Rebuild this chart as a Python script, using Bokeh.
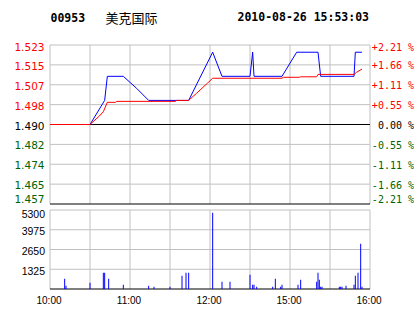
from bokeh.plotting import figure
from bokeh.models import Range1d, ColumnDataSource
from bokeh.core.properties import value
from bokeh.embed import file_html
from bokeh.resources import INLINE

# ---------------- data ----------------
stock_code = "00953"
stock_name = "美克国际"
timestamp = "2010-08-26 15:53:03"
prev_close = 1.490

price_ticks = [1.523, 1.51475, 1.5065, 1.49825, 1.490, 1.48175, 1.4735, 1.46525, 1.457]
price_tick_labels = ["1.523", "1.515", "1.507", "1.498", "1.490", "1.482", "1.474", "1.465", "1.457"]
pct_tick_labels = ["+2.21 %", "+1.66 %", "+1.11 %", "+0.55 %", "0.00 %",
                   "-0.55 %", "-1.11 %", "-1.66 %", "-2.21 %"]
vol_ticks = [5300, 3975, 2650, 1325, 0]
vol_tick_labels = ["5300", "3975", "2650", "1325"]
grid_minutes = [0, 30, 60, 90, 120, 150, 180, 210, 240]
time_tick_minutes = [0, 60, 120, 180, 240]
time_tick_labels = ["10:00", "11:00", "12:00", "15:00", "16:00"]

# minutes since 10:00 on the trading-time axis (lunch break removed)
price_min = [0, 30, 41, 43, 55, 65, 74, 104, 122, 129, 150, 152, 153, 174, 185, 201, 203, 228, 229, 234]
price_val = [1.490, 1.490, 1.500, 1.510, 1.510, 1.505, 1.500, 1.500, 1.520, 1.510,
             1.510, 1.520, 1.510, 1.510, 1.520, 1.520, 1.510, 1.510, 1.520, 1.520]

avg_min = [0, 30, 37, 40, 43, 49, 50, 94, 95, 104, 110, 118, 122, 174, 175, 187, 188, 200, 201, 228, 230, 234]
avg_val = [1.490, 1.490, 1.4935, 1.4953, 1.4992, 1.4992, 1.4996, 1.4996, 1.5000, 1.5000,
           1.5030, 1.5071, 1.5092, 1.5092, 1.5096, 1.5096, 1.5098, 1.5098, 1.5108, 1.5108,
           1.5117, 1.5130]

vol_min = [11, 12, 30, 40, 41, 44, 55, 74, 78, 90, 99, 102, 104, 122, 129, 135, 150, 152, 153,
           155, 167, 169, 173, 174, 186, 188, 200, 201, 202, 203, 204, 217, 218, 219, 222,
           228, 229, 231, 233, 234]
vol_val = [690, 220, 420, 1095, 1095, 690, 290, 220, 150, 150, 890, 1095, 1095, 5120, 490, 490,
           960, 290, 290, 150, 150, 690, 150, 290, 290, 620, 490, 1095, 620, 150, 150, 150,
           150, 150, 220, 290, 890, 1095, 3040, 150]

# ---------------- geometry / style ----------------
W, H = 414, 314
X0_PX = 49.5
PX_PER_MIN = 4.0 / 3.0
PRICE_TOP_PX, PRICE_BOT_PX = 44.5, 203.5
VOL_TOP_PX, VOL_BOT_PX = 209.5, 288.5
RED, GREEN, BLUE, GRID = "#ff0000", "#006400", "#0000ff", "#c0c0c0"

x_start = -X0_PX / PX_PER_MIN
x_end = x_start + W / PX_PER_MIN

p_hi, p_lo = price_ticks[0], price_ticks[-1]
kp = (PRICE_BOT_PX - PRICE_TOP_PX) / (p_hi - p_lo)
y_end = p_hi + PRICE_TOP_PX / kp
y_start = y_end - H / kp

v_hi = vol_ticks[0]
kv = (VOL_BOT_PX - VOL_TOP_PX) / v_hi
v_end = v_hi + VOL_TOP_PX / kv
v_start = v_end - H / kv

p = figure(width=W, height=H, x_range=Range1d(x_start, x_end), y_range=Range1d(y_start, y_end),
           x_axis_location=None, y_axis_location=None, toolbar_location=None,
           output_backend="svg", min_border=0, outline_line_color=None,
           background_fill_color="white", border_fill_color="white")
p.grid.visible = False
p.extra_y_ranges = {"vol": Range1d(v_start, v_end)}

t_lo, t_hi = grid_minutes[0], grid_minutes[-1]

# price grid
gray_prices = [v for v in price_ticks if v not in (prev_close, p_lo)]
p.segment(x0=[t_lo] * len(gray_prices), x1=[t_hi] * len(gray_prices), y0=gray_prices, y1=gray_prices,
          line_color=GRID, line_width=1)
p.segment(x0=grid_minutes, x1=grid_minutes, y0=[p_lo] * len(grid_minutes), y1=[p_hi] * len(grid_minutes),
          line_color=GRID, line_width=1)
p.segment(x0=[t_lo, t_lo], x1=[t_hi, t_hi], y0=[prev_close, p_lo], y1=[prev_close, p_lo],
          line_color="black", line_width=1)

# volume grid
gray_vols = vol_ticks[:-1]
p.segment(x0=[t_lo] * len(gray_vols), x1=[t_hi] * len(gray_vols), y0=gray_vols, y1=gray_vols,
          line_color=GRID, line_width=1, y_range_name="vol")
p.segment(x0=grid_minutes, x1=grid_minutes, y0=[0] * len(grid_minutes), y1=[v_hi] * len(grid_minutes),
          line_color=GRID, line_width=1, y_range_name="vol")
p.segment(x0=[t_lo], x1=[t_hi], y0=[0], y1=[0], line_color="black", line_width=1, y_range_name="vol")

# price & average lines
p.line(price_min, price_val, line_color=BLUE, line_width=1)
p.line(avg_min, avg_val, line_color=RED, line_width=1)

# volume bars
p.vbar(x=vol_min, top=vol_val, bottom=0, width=0.75, fill_color=BLUE, line_color=None,
       y_range_name="vol")

# left price labels
def side_color(v):
    if abs(v - prev_close) < 1e-9:
        return "black"
    return RED if v > prev_close else GREEN

colors = [side_color(v) for v in price_ticks]
dy = [2] + [1] * (len(price_ticks) - 2) + [-5]
left_src = ColumnDataSource(dict(x=[t_lo] * len(price_ticks), y=price_ticks, t=price_tick_labels,
                                 c=colors, dy=dy))
p.text(x="x", y="y", text="t", text_color="c", y_offset="dy", x_offset=-5.5, source=left_src,
       text_align="right", text_baseline="middle", text_font=value("DejaVu Sans"),
       text_font_size="10.5px")

right_src = ColumnDataSource(dict(x=[t_hi] * len(price_ticks), y=price_ticks, t=pct_tick_labels,
                                  c=colors, dy=dy))
p.text(x="x", y="y", text="t", text_color="c", y_offset="dy", x_offset=44, source=right_src,
       text_align="right", text_baseline="middle", text_font=value("DejaVu Sans Mono"),
       text_font_size="10px")

# volume labels
vdy = [4] + [1.5] * (len(vol_tick_labels) - 1)
vol_src = ColumnDataSource(dict(x=[t_lo] * len(vol_tick_labels), y=vol_ticks[:len(vol_tick_labels)],
                                t=vol_tick_labels, dy=vdy))
p.text(x="x", y="y", text="t", y_offset="dy", x_offset=-5, source=vol_src, y_range_name="vol",
       text_align="right", text_baseline="middle", text_color="black",
       text_font=value("Liberation Sans"), text_font_size="10.5px")

# time labels
p.text(x=time_tick_minutes, y=[0] * len(time_tick_minutes), text=time_tick_labels, y_range_name="vol",
       x_offset=-1, y_offset=11, text_align="center", text_baseline="middle", text_color="black",
       text_font=value("Liberation Sans"), text_font_size="10px")

# header
p.text(x=[t_lo], y=[p_hi], text=[stock_code], x_offset=0.5, y_offset=-28, text_align="left",
       text_baseline="middle", text_color="black", text_font=value("DejaVu Sans Mono"),
       text_font_size="11.5px", text_font_style="bold")
p.text(x=[t_lo], y=[p_hi], text=[stock_name], x_offset=55.5, y_offset=-28, text_align="left",
       text_baseline="middle", text_color="black", text_font=value("Noto Sans CJK SC"),
       text_font_size="13px")
p.text(x=[t_lo], y=[p_hi], text=[timestamp], x_offset=187.5, y_offset=-28, text_align="left",
       text_baseline="middle", text_color="black", text_font=value("DejaVu Sans Mono"),
       text_font_size="11.5px", text_font_style="bold")

open("out.html", "w").write(file_html(p, INLINE))
